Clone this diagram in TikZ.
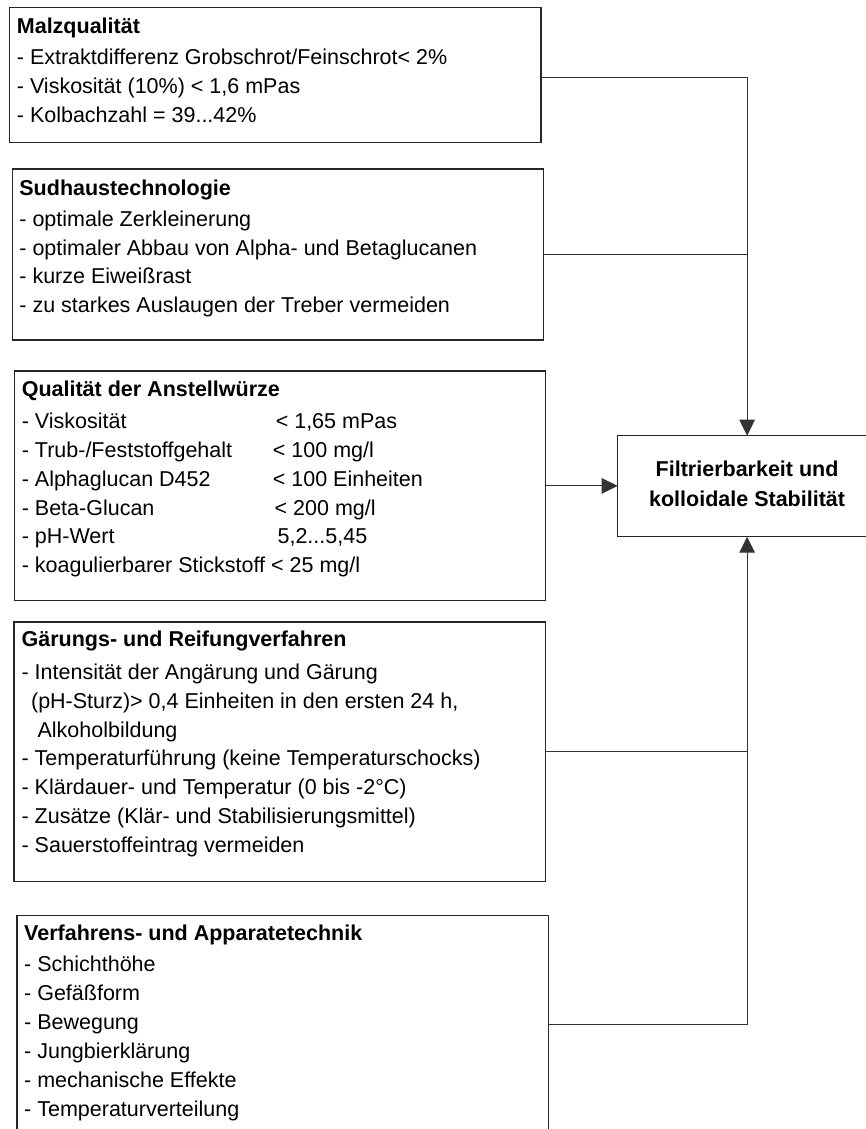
\documentclass[tikz,border=0pt]{standalone}
\usepackage{fontspec}
\setmainfont{Liberation Sans}
\usetikzlibrary{arrows.meta,calc}

\newcommand{\bxtext}[1]{\parbox[t]{520pt}{\raggedright\fontsize{21.5pt}{28.9pt}\selectfont #1}}
\newcommand{\tgtext}[1]{\parbox[t]{250pt}{\centering\bfseries\fontsize{21.5pt}{30.7pt}\selectfont #1}}

\begin{document}
\begin{tikzpicture}[x=1pt,y=-1pt,
  box/.style={draw=black!85, line width=1.1pt, rectangle, inner sep=0pt, outer sep=0pt,
              minimum width=531.3pt, anchor=north west},
  txt/.style={inner sep=0pt, outer sep=0pt, anchor=base west},
  conn/.style={draw=black!80, line width=1pt},
  arr/.style={conn, -{Triangle[length=16pt,width=15.5pt]}},
]
\useasboundingbox (0,0) rectangle (866,1129);
\fill[white] (0,0) rectangle (866,1129);

% boxes
\node[box, minimum height=135.4pt] (malz) at (9.7,7.3) {};
\node[box, minimum height=171pt]   (sud)  at (12.2,169) {};
\node[box, minimum height=229.8pt] (qual) at (14.2,371) {};
\node[box, minimum height=259.7pt] (gaer) at (14.0,622) {};
\node[box, minimum height=217.3pt] (verf) at (17.0,915.7) {};

\node[draw=black!85, line width=1.1pt, rectangle, inner sep=0pt, outer sep=0pt,
      minimum width=258.8pt, minimum height=101pt] (target) at (747.1,486.2) {};

% texts
\node[txt] (malzT) at ($(malz.north west)+(7.2,26)$) {\bxtext{%
\textbf{Malzqualität}\\[2.2pt]
- Extraktdifferenz Grobschrot/Feinschrot< 2\%\\
- Viskosität (10\%) < 1,6 mPas\\
- Kolbachzahl = 39...42\%}};

\node[txt] (sudT) at ($(sud.north west)+(7.2,26)$) {\bxtext{%
\textbf{Sudhaustechnologie}\\[2.2pt]
- optimale Zerkleinerung\\
- optimaler Abbau von Alpha- und Betaglucanen\\
- kurze Eiweißrast\\
- zu starkes Auslaugen der Treber vermeiden}};

\node[txt] (qualT) at ($(qual.north west)+(7.6,25.7)$) {\bxtext{%
\textbf{Qualität der Anstellwürze}\\[2.7pt]
\makebox[254pt][l]{- Viskosität}< 1,65 mPas\\
\makebox[251.1pt][l]{- Trub-/Feststoffgehalt}< 100 mg/l\\
\makebox[251.1pt][l]{- Alphaglucan D452}< 100 Einheiten\\
\makebox[252.9pt][l]{- Beta-Glucan}< 200 mg/l\\
\makebox[255.8pt][l]{- pH-Wert}5,2...5,45\\
- koagulierbarer Stickstoff < 25 mg/l}};

\node[txt] (gaerT) at ($(gaer.north west)+(7.6,24.9)$) {\bxtext{%
\textbf{Gärungs- und Reifungverfahren}\\[3.4pt]
- Intensität der Angärung und Gärung\\
\hspace*{9.5pt}(pH-Sturz)> 0,4 Einheiten in den ersten 24 h,\\
\hspace*{16pt}Alkoholbildung\\
- Temperaturführung (keine Temperaturschocks)\\
- Klärdauer- und Temperatur (0 bis -2°C)\\
- Zusätze (Klär- und Stabilisierungsmittel)\\
- Sauerstoffeintrag vermeiden}};

\node[txt] (verfT) at ($(verf.north west)+(7.2,25)$) {\bxtext{%
\textbf{Verfahrens- und Apparatetechnik}\\[2.2pt]
- Schichthöhe\\
- Gefäßform\\
- Bewegung\\
- Jungbierklärung\\
- mechanische Effekte\\
- Temperaturverteilung}};

\node[inner sep=0pt, outer sep=0pt, anchor=base] (targetT) at (747.1,476) {\tgtext{%
Filtrierbarkeit und\\
kolloidale Stabilität}};

% connectors
\draw[arr] ($(malz.east)+(0,2.3)$) -| (target.north);
\draw[conn] (sud.east) -- (sud.east -| target.north);
\draw[arr] (qual.east) -- (qual.east -| target.west);
\draw[arr] (gaer.east) -| (target.south);
\draw[conn] (verf.east) -| (gaer.east -| target.south);
\end{tikzpicture}
\end{document}
